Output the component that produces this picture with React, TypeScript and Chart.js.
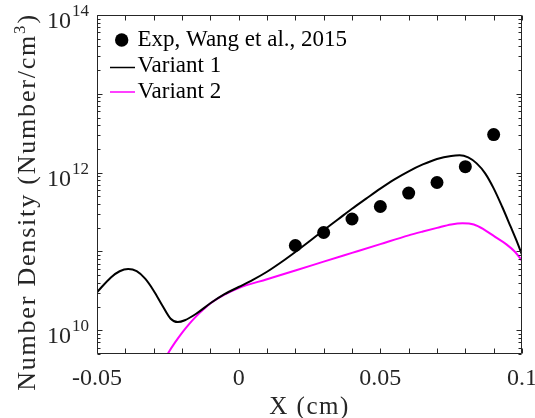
import React, { useEffect, useRef } from 'react';
import { Chart, registerables } from 'chart.js';

Chart.register(...registerables);

// Experimental data (Wang et al., 2015)
const expX = [0.02, 0.03, 0.04, 0.05, 0.06, 0.07, 0.08, 0.09];
const expY = [1.19e11, 1.74e11, 2.58e11, 3.72e11, 5.5e11, 7.5e11, 1.19e12, 3.04e12];

// Variant 1 (black curve)
const v1X = [-0.05, -0.045, -0.042, -0.039, -0.036, -0.033, -0.03, -0.027, -0.024, -0.0215, -0.019, -0.015, -0.01, -0.005, 0, 0.005, 0.01, 0.015, 0.02, 0.025, 0.03, 0.035, 0.04, 0.045, 0.05, 0.055, 0.06, 0.065, 0.07, 0.075, 0.078, 0.081, 0.084, 0.087, 0.09, 0.093, 0.096, 0.098, 0.1];
const v1Y = [3.04e10, 4.71e10, 5.61e10, 5.98e10, 5.61e10, 4.51e10, 3.18e10, 2.08e10, 1.4e10, 1.27e10, 1.34e10, 1.62e10, 2.2e10, 2.87e10, 3.54e10, 4.36e10, 5.53e10, 7.3e10, 9.86e10, 1.35e11, 1.86e11, 2.54e11, 3.48e11, 4.68e11, 6.27e11, 8.22e11, 1.04e12, 1.27e12, 1.49e12, 1.63e12, 1.66e12, 1.56e12, 1.31e12, 9.8e11, 6.32e11, 3.69e11, 2.06e11, 1.39e11, 9.08e10];

// Variant 2 (magenta curve)
const v2X = [-0.0265, -0.025, -0.0225, -0.02, -0.0175, -0.015, -0.0125, -0.01, -0.005, 0, 0.01, 0.02, 0.03, 0.04, 0.05, 0.06, 0.065, 0.07, 0.075, 0.079, 0.083, 0.0865, 0.0905, 0.0945, 0.0975, 0.1];
const v2Y = [4.0e9, 5.05e9, 6.97e9, 9.29e9, 1.197e10, 1.5e10, 1.83e10, 2.19e10, 2.83e10, 3.44e10, 4.45e10, 5.74e10, 7.43e10, 9.6e10, 1.24e11, 1.6e11, 1.79e11, 1.99e11, 2.2e11, 2.28e11, 2.2e11, 1.91e11, 1.53e11, 1.23e11, 9.9e10, 7.62e10];

// Axes
const xMin = -0.05;
const xMax = 0.1;
const yMin = 5e9;
const yMax = 1e14;
const xTickValues = [-0.05, 0, 0.05, 0.1];
const xTickLabels = ['-0.05', '0', '0.05', '0.1'];
const xMinorTicks = [-0.04, -0.03, -0.02, -0.01, 0.01, 0.02, 0.03, 0.04, 0.06, 0.07, 0.08, 0.09];
const yLabelExponents = [10, 12, 14];
const yDecades = [9, 10, 11, 12, 13, 14];
const yMultipliers = [1, 2, 3, 4, 5, 6, 7, 8, 9];

const legendLabels = ['Exp, Wang et al., 2015', 'Variant 1', 'Variant 2'];
const xTitle = 'X (cm)';
const yTitleMain = 'Number Density (Number/cm';
const yTitleSup = '3';
const yTitleEnd = ')';

const SERIF = '"Liberation Serif", "Times New Roman", serif';
const AXIS = '#262626';
const MAGENTA = '#ff00ff';

const decor = {
  id: 'decor',
  afterDatasetsDraw(chart: any) {
    const { ctx, chartArea: a } = chart;
    const xs = chart.scales.x;
    const ys = chart.scales.y;
    const L = Math.round(a.left) + 0.5;
    const R = Math.round(a.right) - 0.5;
    const T = Math.round(a.top) + 0.5;
    const B = Math.round(a.bottom) - 0.5;
    ctx.save();
    ctx.strokeStyle = AXIS;
    ctx.lineWidth = 1;
    ctx.beginPath();
    ctx.rect(L, T, R - L, B - T);
    [...xTickValues, ...xMinorTicks].forEach((v) => {
      const p = Math.round(xs.getPixelForValue(v)) + 0.5;
      ctx.moveTo(p, B);
      ctx.lineTo(p, B - 5);
      ctx.moveTo(p, T);
      ctx.lineTo(p, T + 5);
    });
    yDecades.forEach((e) => {
      yMultipliers.forEach((m) => {
        const v = m * Math.pow(10, e);
        if (v < yMin * 0.999 || v > yMax * 1.001) return;
        const p = Math.round(ys.getPixelForValue(v)) + 0.5;
        const len = m === 1 ? 5 : 3;
        ctx.moveTo(L, p);
        ctx.lineTo(L + len, p);
        ctx.moveTo(R, p);
        ctx.lineTo(R - len, p);
      });
    });
    ctx.stroke();

    ctx.fillStyle = '#262626';
    // x tick labels
    ctx.font = `24px ${SERIF}`;
    ctx.textAlign = 'center';
    ctx.textBaseline = 'alphabetic';
    xTickValues.forEach((v, i) => {
      ctx.fillText(xTickLabels[i], xs.getPixelForValue(v), 385);
    });
    // y tick labels 10^n
    yLabelExponents.forEach((e) => {
      const p = ys.getPixelForValue(Math.pow(10, e));
      ctx.textAlign = 'right';
      ctx.font = `17px ${SERIF}`;
      const expText = String(e);
      const w = ctx.measureText(expText).width;
      const xr = a.left - 8;
      ctx.fillText(expText, xr, p + 1);
      ctx.font = `24px ${SERIF}`;
      ctx.fillText('10', xr - w - 1, p + 13);
    });
    // x title
    ctx.font = `25px ${SERIF}`;
    (ctx as any).letterSpacing = '1.5px';
    ctx.textAlign = 'center';
    ctx.fillText(xTitle, (a.left + a.right) / 2, 414);
    // y title (rotated)
    ctx.save();
    (ctx as any).letterSpacing = '1.8px';
    ctx.translate(35, 202);
    ctx.rotate(-Math.PI / 2);
    ctx.textAlign = 'left';
    ctx.font = `26px ${SERIF}`;
    const w1 = ctx.measureText(yTitleMain).width;
    ctx.font = `17px ${SERIF}`;
    const w2 = ctx.measureText(yTitleSup).width;
    ctx.font = `26px ${SERIF}`;
    const w3 = ctx.measureText(yTitleEnd).width;
    let x0 = -(w1 + w2 + w3) / 2;
    ctx.fillText(yTitleMain, x0, 0);
    x0 += w1;
    ctx.font = `17px ${SERIF}`;
    ctx.fillText(yTitleSup, x0, -10);
    x0 += w2;
    ctx.font = `26px ${SERIF}`;
    ctx.fillText(yTitleEnd, x0, 0);
    ctx.restore();
    (ctx as any).letterSpacing = '0px';

    // legend
    const ds = chart.data.datasets;
    ctx.font = `23px ${SERIF}`;
    ctx.textAlign = 'left';
    ctx.beginPath();
    ctx.arc(121.7, 40, 6.7, 0, Math.PI * 2);
    ctx.fillStyle = ds[0].pointBackgroundColor;
    ctx.fill();
    ctx.fillStyle = '#000';
    ctx.fillText(ds[0].label, 137.5, 45.5);
    const rows = [
      { i: 1, y: 67.5, base: 72 },
      { i: 2, y: 92, base: 98 },
    ];
    rows.forEach((r) => {
      ctx.beginPath();
      ctx.strokeStyle = ds[r.i].borderColor;
      ctx.lineWidth = 1.5;
      ctx.moveTo(110, r.y);
      ctx.lineTo(135, r.y);
      ctx.stroke();
      ctx.fillStyle = '#000';
      ctx.fillText(ds[r.i].label, 137.5, r.base);
    });
    ctx.restore();
  },
};

export default function App() {
  const ref = useRef<HTMLCanvasElement>(null);
  useEffect(() => {
    const canvas = ref.current!;
    const chart = new Chart(canvas, {
      type: 'line',
      data: {
        datasets: [
          {
            label: legendLabels[0],
            data: expX.map((x, i) => ({ x, y: expY[i] })),
            showLine: false,
            pointRadius: 6.5,
            pointHoverRadius: 6.5,
            pointBackgroundColor: '#000',
            pointBorderColor: '#000',
            pointBorderWidth: 0,
            borderColor: '#000',
            backgroundColor: '#000',
          },
          {
            label: legendLabels[1],
            data: v1X.map((x, i) => ({ x, y: v1Y[i] })),
            borderColor: '#000',
            backgroundColor: '#000',
            borderWidth: 2,
            pointRadius: 0,
            cubicInterpolationMode: 'monotone',
            fill: false,
          },
          {
            label: legendLabels[2],
            data: v2X.map((x, i) => ({ x, y: v2Y[i] })),
            borderColor: MAGENTA,
            backgroundColor: MAGENTA,
            borderWidth: 2,
            pointRadius: 0,
            cubicInterpolationMode: 'monotone',
            fill: false,
          },
        ],
      },
      options: {
        animation: false,
        responsive: true,
        maintainAspectRatio: false,
        events: [],
        layout: { padding: { left: 97, right: 13, top: 15, bottom: 64 } },
        scales: {
          x: { type: 'linear', min: xMin, max: xMax, display: false },
          y: { type: 'logarithmic', min: yMin, max: yMax, display: false },
        },
        plugins: { legend: { display: false }, tooltip: { enabled: false } },
      },
      plugins: [decor],
    } as any);
    return () => chart.destroy();
  }, []);
  return (
    <div style={{ position: 'absolute', left: 0, top: 0, width: 535, height: 418, background: '#fff' }}>
      <canvas ref={ref} />
    </div>
  );
}
